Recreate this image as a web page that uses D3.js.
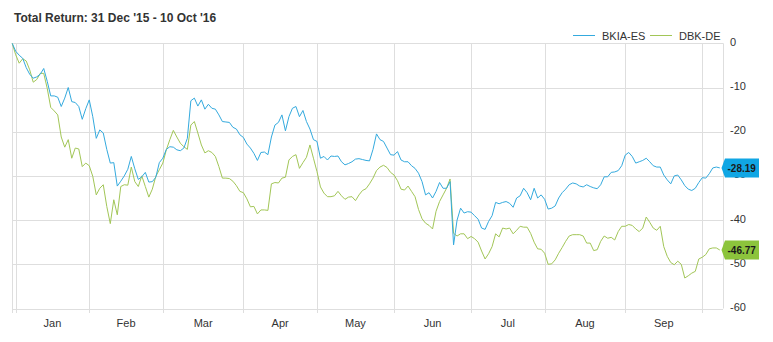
<!DOCTYPE html>
<html>
<head>
<meta charset="utf-8">
<script src="https://cdn.jsdelivr.net/npm/d3@7"></script>
<style>
  body { margin: 0; background: #fff; }
  svg { display: block; font-family: "Liberation Sans", Arial, sans-serif; }
</style>
</head>
<body>
<div id="chart"><svg></svg></div>
<script>
const title = "Total Return: 31 Dec '15 - 10 Oct '16";
const seriesNames = ["BKIA-ES", "DBK-DE"];
const yTicks = [0, -10, -20, -30, -40, -50, -60];

// total return (%) per trading day, 31 Dec 2015 .. 10 Oct 2016
const bkia = [
  0, -1.8, -2.7, -3.4, -5.5, -7.0, -7.9, -7.6, -7.0, -5.7, -8.6, -11.9, -11.9, -12.2, -14.3, -12.4, -10.0, -13.2, -13.4, -14.3,
  -17.2, -14.8, -12.8, -16.6, -21.5, -19.6, -20.3, -24.0, -27.1, -27.0, -32.3, -31.2, -30.0, -28.5, -25.6, -28.4, -30.8, -30.2, -29.2, -31.4,
  -31.3, -30.3, -27.0, -26.0, -24.0, -23.4, -23.5, -24.1, -24.3, -23.7, -21.5, -13.0, -12.4, -14.2, -12.8, -14.9, -13.8, -14.7, -14.9, -16.2,
  -17.7, -17.8, -17.9, -19.0, -19.4, -20.7, -21.3, -22.8, -23.7, -24.9, -26.5, -24.7, -24.6, -25.2, -21.2, -18.5, -17.9, -16.2, -19.8, -16.6,
  -14.7, -14.3, -16.6, -15.2, -17.7, -19.4, -21.8, -22.2, -26.0, -25.6, -26.4, -25.5, -25.6, -25.5, -26.8, -27.5, -27.2, -26.8, -26.2, -26.1,
  -26.3, -26.5, -26.6, -24.0, -20.5, -21.8, -22.2, -23.7, -25.2, -25.3, -24.5, -26.4, -26.8, -26.8, -27.7, -28.3, -29.4, -31.3, -34.3, -33.8,
  -35.0, -33.5, -31.5, -32.8, -32.8, -31.3, -45.6, -40.0, -37.3, -38.4, -38.1, -38.2, -39.0, -39.8, -41.8, -42.1, -40.3, -39.0, -36.0, -36.3,
  -36.0, -35.8, -36.2, -37.1, -35.0, -34.5, -32.8, -33.8, -35.4, -32.8, -35.0, -34.3, -35.3, -37.5, -37.3, -36.8, -35.0, -33.8, -33.0, -32.0,
  -31.6, -31.8, -32.3, -32.5, -32.0, -32.4, -32.7, -32.9, -32.0, -30.2, -30.2, -29.2, -29.1, -28.8, -27.7, -25.3, -24.7, -25.6, -27.1, -26.8,
  -26.5, -26.0, -26.8, -27.7, -28.0, -28.0, -29.8, -30.9, -31.8, -30.0, -29.8, -30.9, -32.2, -33.0, -33.3, -32.8, -31.5, -30.4, -30.5, -29.5,
  -28.2, -28.0, -28.19
];
const dbk = [
  0, -2.6, -4.5, -3.5, -4.0, -6.0, -8.8, -8.2, -6.8, -6.8, -10.2, -14.5, -15.3, -16.2, -21.2, -23.5, -21.8, -26.0, -23.7, -23.9,
  -27.9, -27.1, -27.7, -30.1, -34.3, -32.8, -32.0, -36.9, -40.8, -35.4, -38.8, -32.4, -32.0, -32.1, -28.0, -31.3, -32.4, -30.0, -32.4, -34.8,
  -33.0, -30.1, -28.6, -27.1, -24.1, -21.8, -19.7, -21.2, -22.6, -23.4, -24.0, -18.5, -17.7, -20.3, -23.0, -24.8, -24.3, -24.7, -25.6, -27.9,
  -30.5, -30.5, -30.6, -31.2, -32.2, -33.5, -33.8, -35.2, -37.0, -36.9, -38.6, -37.7, -37.7, -37.8, -31.8, -31.5, -31.6, -30.5, -30.3, -26.4,
  -25.6, -25.2, -28.3, -27.0, -25.8, -23.0, -26.0, -29.0, -32.5, -33.9, -34.7, -34.7, -34.5, -33.5, -34.5, -35.3, -34.8, -34.7, -35.6, -34.3,
  -33.3, -32.9, -31.8, -30.5, -28.8, -28.0, -27.6, -28.1, -29.2, -29.8, -31.1, -33.0, -33.2, -32.3, -33.5, -34.7, -37.6, -39.7, -40.7, -41.2,
  -42.0, -38.0, -35.8, -34.3, -32.8, -30.7, -43.0, -43.6, -43.1, -43.1, -44.2, -43.7, -44.2, -45.0, -47.0, -48.8, -47.6, -46.0, -43.1, -43.8,
  -41.8, -42.0, -41.8, -43.1, -42.3, -41.4, -41.6, -41.6, -43.0, -45.0, -46.5, -46.6, -47.5, -50.0, -49.9, -49.0, -47.5, -46.2, -44.8, -43.6,
  -43.3, -43.3, -43.3, -43.6, -45.2, -45.2, -46.9, -46.7, -44.8, -43.6, -44.1, -43.9, -44.5, -42.6, -41.4, -41.4, -41.0, -41.2, -42.0, -42.6,
  -41.8, -39.3, -40.5, -41.8, -42.3, -41.4, -46.0, -48.2, -49.6, -50.1, -49.3, -50.0, -53.1, -52.6, -52.0, -51.6, -48.8, -48.4, -47.8, -46.5,
  -46.3, -46.3, -46.77
];
const colors = ["#34aade", "#a2c657"];
const badgeColors = ["#10a6e4", "#8cc43c"];

const width = 773, height = 342;
const plotLeft = 12, plotRight = 723, plotTop = 43.3, plotBottom = 308.5;

// weekdays only, the chart skips weekends
const days = d3.timeDay.range(new Date(2015, 11, 31), new Date(2016, 9, 11))
  .filter(d => d.getDay() % 6 !== 0);

const x = d3.scalePoint().domain(days).range([12.2, 719.8]);
const y = d3.scaleLinear().domain([-60, 0]).range([plotBottom, plotTop]);

const svg = d3.select("#chart").select("svg")
  .attr("width", width)
  .attr("height", height);

// first trading day of each month -> vertical grid
const monthStarts = days.filter((d, i) => i > 0 && d.getMonth() !== days[i - 1].getMonth());
const crisp = v => Math.round(v) + 0.5;

const grid = svg.append("g").attr("stroke", "#dedede").attr("stroke-width", 1);

grid.selectAll("line.h")
  .data(yTicks)
  .enter().append("line")
  .attr("class", "h")
  .attr("x1", plotLeft).attr("x2", plotRight)
  .attr("y1", d => crisp(y(d))).attr("y2", d => crisp(y(d)));

grid.selectAll("line.v")
  .data(monthStarts)
  .enter().append("line")
  .attr("class", "v")
  .attr("x1", d => crisp(x(d))).attr("x2", d => crisp(x(d)))
  .attr("y1", plotTop).attr("y2", plotBottom + 4.5);

grid.append("line")
  .attr("x1", crisp(plotLeft - 0.5)).attr("x2", crisp(plotLeft - 0.5))
  .attr("y1", plotTop).attr("y2", plotBottom + 4.5);
grid.append("line")
  .attr("x1", crisp(plotRight)).attr("x2", crisp(plotRight))
  .attr("y1", plotTop).attr("y2", plotBottom);

// month labels between grid lines
const monthFmt = d3.timeFormat("%b");
const labelMonths = monthStarts.slice(0, -1).map((d, i) => ({
  d: d, mid: (x(d) + x(monthStarts[i + 1])) / 2
}));
svg.append("g").selectAll("text")
  .data(labelMonths)
  .enter().append("text")
  .attr("x", d => d.mid)
  .attr("y", 326.5)
  .attr("text-anchor", "middle")
  .attr("font-size", 11)
  .attr("fill", "#333")
  .text(d => monthFmt(d.d));

// right y axis labels
svg.append("g").selectAll("text")
  .data(yTicks)
  .enter().append("text")
  .attr("x", 730)
  .attr("y", d => y(d) + 2.5)
  .attr("font-size", 11)
  .attr("fill", "#333")
  .text(d => d);

// lines
const line = d3.line()
  .x((v, i) => x(days[i]))
  .y(v => y(v));

[dbk, bkia].forEach((vals, k) => {
  svg.append("path")
    .datum(vals)
    .attr("d", line)
    .attr("fill", "none")
    .attr("stroke", colors[1 - k])
    .attr("stroke-width", 1)
    .attr("stroke-linejoin", "round");
});

// last value badges
const lastVals = [bkia[bkia.length - 1], dbk[dbk.length - 1]];
const badges = svg.append("g").selectAll("g")
  .data(lastVals)
  .enter().append("g")
  .attr("transform", d => `translate(721.5,${y(d)})`);

badges.append("path")
  .attr("d", "M0,0L3.5,-9.5L37.5,-9.5L37.5,9.5L3.5,9.5Z")
  .attr("fill", (d, i) => badgeColors[i]);

badges.append("text")
  .attr("x", 6)
  .attr("y", 3.6)
  .attr("font-size", 10)
  .attr("font-weight", "bold")
  .attr("fill", "#1a1a1a")
  .text(d => d.toFixed(2));

// title
svg.append("text")
  .attr("x", 14)
  .attr("y", 21.5)
  .attr("font-size", 12)
  .attr("font-weight", "bold")
  .attr("fill", "#333")
  .text(title);

// legend
const legendX = [573, 650];
const legend = svg.append("g").selectAll("g")
  .data(seriesNames)
  .enter().append("g")
  .attr("transform", (d, i) => `translate(${legendX[i]},0)`);

legend.append("line")
  .attr("x1", 0).attr("x2", 22)
  .attr("y1", 35.5).attr("y2", 35.5)
  .attr("stroke", (d, i) => colors[i])
  .attr("stroke-width", 1);

legend.append("text")
  .attr("x", 29)
  .attr("y", 39.5)
  .attr("font-size", 11)
  .attr("fill", "#333")
  .text(d => d);
</script>
</body>
</html>
